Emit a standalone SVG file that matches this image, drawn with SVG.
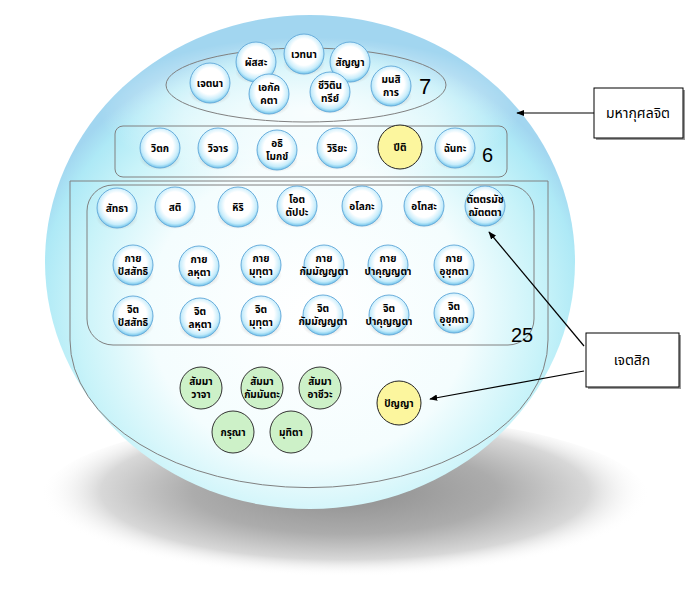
<svg xmlns="http://www.w3.org/2000/svg" width="697" height="599" viewBox="0 0 697 599">
<defs>
<radialGradient id="sph" cx="0.5" cy="0.6" r="0.55">
<stop offset="0" stop-color="#ffffff"/>
<stop offset="0.55" stop-color="#f4fdfe"/>
<stop offset="0.8" stop-color="#c8f3f9"/>
<stop offset="0.93" stop-color="#aee9f6"/>
<stop offset="1" stop-color="#a2d6f0"/>
</radialGradient>
<radialGradient id="hl" cx="0.5" cy="0.5" r="0.5">
<stop offset="0" stop-color="#ffffff" stop-opacity="0.85"/>
<stop offset="0.6" stop-color="#ffffff" stop-opacity="0.5"/>
<stop offset="1" stop-color="#ffffff" stop-opacity="0"/>
</radialGradient>
<radialGradient id="gshd" cx="0.5" cy="0.45" r="0.5">
<stop offset="0" stop-color="#8e8e8e"/>
<stop offset="0.5" stop-color="#acacac"/>
<stop offset="0.8" stop-color="#d8d8d8"/>
<stop offset="1" stop-color="#ffffff" stop-opacity="0"/>
</radialGradient>
<radialGradient id="bub" cx="0.5" cy="0.45" r="0.55">
<stop offset="0" stop-color="#ffffff"/>
<stop offset="0.6" stop-color="#ffffff"/>
<stop offset="0.85" stop-color="#c6ecfb"/>
<stop offset="1" stop-color="#6cc2ea"/>
</radialGradient>
<radialGradient id="bsh" cx="0.5" cy="0.5" r="0.5">
<stop offset="0" stop-color="#555" stop-opacity="0.75"/>
<stop offset="1" stop-color="#888" stop-opacity="0"/>
</radialGradient>
<marker id="ah" viewBox="0 0 10 10" refX="9" refY="5" markerWidth="8" markerHeight="8" orient="auto-start-reverse" markerUnits="userSpaceOnUse">
<path d="M0,1 L10,5 L0,9 Z" fill="#000"/>
</marker>
<style>
.t{font-family:"Noto Sans Thai","Noto Serif Thai","Loma","Garuda","Norasi","Noto Sans","DejaVu Sans",sans-serif;font-size:10px;font-weight:bold;text-anchor:middle;fill:#000}
.lab{font-family:"Noto Sans Thai","Noto Serif Thai","Loma","Garuda","Noto Sans","DejaVu Sans",sans-serif;font-size:14px;text-anchor:middle;fill:#000}
.num{font-family:"Liberation Sans",Arial,sans-serif;font-size:22px;fill:#000}
.bub{fill:url(#bub);stroke:#6aaedc;stroke-width:1}
.sh{fill:url(#bsh)}
.yel{fill:#fcf69e;stroke:#222;stroke-width:1}
.grn{fill:#cdf1c8;stroke:#333;stroke-width:1}
.frame{fill:none;stroke:#808080;stroke-width:1}
.box{fill:#fff;stroke:#000;stroke-width:1}
.con{stroke:#000;stroke-width:1.2;fill:none}
</style>
</defs>
<rect width="697" height="599" fill="#fff"/>
<!-- background sphere -->
<ellipse cx="345" cy="500" rx="305" ry="85" fill="url(#gshd)"/>
<ellipse cx="310" cy="262" rx="265" ry="247" fill="url(#sph)"/>
<ellipse cx="310" cy="112" rx="210" ry="75" fill="url(#hl)"/>
<!-- frames -->
<ellipse class="frame" cx="306" cy="85" rx="140" ry="37"/>
<rect class="frame" x="115" y="126" width="392" height="51" rx="8"/>
<path class="frame" d="M70,181 H548 V340 A238,147 0 0 1 70,340 Z"/>
<rect class="frame" x="87" y="185" width="447" height="160" rx="26"/>
<text class="num" x="419" y="94">7</text>
<text class="num" x="482" y="162" style="font-size:20px">6</text>
<text class="num" x="511" y="342" style="font-size:20px">25</text>

<!-- group of 7 -->
<g id="n1"><ellipse class="sh" cx="210" cy="93" rx="21" ry="12"/><circle class="bub" cx="210" cy="83" r="20"/><text class="t" x="210" y="87">เจตนา</text></g>
<g id="n2"><ellipse class="sh" cx="256" cy="72" rx="21" ry="12"/><circle class="bub" cx="256" cy="62" r="20"/><text class="t" x="256" y="66">ผัสสะ</text></g>
<g id="n3"><ellipse class="sh" cx="304" cy="64" rx="21" ry="12"/><circle class="bub" cx="304" cy="54" r="20"/><text class="t" x="304" y="58">เวทนา</text></g>
<g id="n4"><ellipse class="sh" cx="350" cy="72" rx="21" ry="12"/><circle class="bub" cx="350" cy="62" r="20"/><text class="t" x="350" y="66">สัญญา</text></g>
<g id="n5"><ellipse class="sh" cx="269" cy="104" rx="21" ry="12"/><circle class="bub" cx="269" cy="94" r="20"/><text class="t" x="269" y="91"><tspan x="269">เอกัค</tspan><tspan x="269" dy="13">คตา</tspan></text></g>
<g id="n6"><ellipse class="sh" cx="330" cy="102" rx="21" ry="12"/><circle class="bub" cx="330" cy="92" r="20"/><text class="t" x="330" y="89"><tspan x="330">ชีวิติน</tspan><tspan x="330" dy="13">ทรีย์</tspan></text></g>
<g id="n7"><ellipse class="sh" cx="391" cy="96" rx="21" ry="12"/><circle class="bub" cx="391" cy="86" r="20"/><text class="t" x="391" y="83"><tspan x="391">มนสิ</tspan><tspan x="391" dy="13">การ</tspan></text></g>

<!-- group of 6 -->
<g id="n8"><ellipse class="sh" cx="160" cy="158" rx="21" ry="12"/><circle class="bub" cx="160" cy="148" r="20"/><text class="t" x="160" y="152">วิตก</text></g>
<g id="n9"><ellipse class="sh" cx="218" cy="158" rx="21" ry="12"/><circle class="bub" cx="218" cy="148" r="20"/><text class="t" x="218" y="152">วิจาร</text></g>
<g id="n10"><ellipse class="sh" cx="277" cy="160" rx="21" ry="12"/><circle class="bub" cx="277" cy="150" r="20"/><text class="t" x="277" y="147"><tspan x="277">อธิ</tspan><tspan x="277" dy="13">โมกข์</tspan></text></g>
<g id="n11"><ellipse class="sh" cx="337" cy="158" rx="21" ry="12"/><circle class="bub" cx="337" cy="148" r="20"/><text class="t" x="337" y="152">วิริยะ</text></g>
<g id="n12"><circle class="yel" cx="400" cy="147" r="22"/><text class="t" x="400" y="151">ปีติ</text></g>
<g id="n13"><ellipse class="sh" cx="455" cy="158" rx="21" ry="12"/><circle class="bub" cx="455" cy="148" r="20"/><text class="t" x="455" y="152">ฉันทะ</text></g>

<!-- group of 25 -->
<g id="n14"><ellipse class="sh" cx="117" cy="218" rx="21" ry="12"/><circle class="bub" cx="117" cy="208" r="20"/><text class="t" x="117" y="212">สัทธา</text></g>
<g id="n15"><ellipse class="sh" cx="175" cy="217" rx="21" ry="12"/><circle class="bub" cx="175" cy="207" r="20"/><text class="t" x="175" y="211">สติ</text></g>
<g id="n16"><ellipse class="sh" cx="238" cy="217" rx="21" ry="12"/><circle class="bub" cx="238" cy="207" r="20"/><text class="t" x="238" y="211">หิริ</text></g>
<g id="n17"><ellipse class="sh" cx="297" cy="216" rx="21" ry="12"/><circle class="bub" cx="297" cy="206" r="20"/><text class="t" x="297" y="203"><tspan x="297">โอต</tspan><tspan x="297" dy="13">ตัปปะ</tspan></text></g>
<g id="n18"><ellipse class="sh" cx="362" cy="216" rx="21" ry="12"/><circle class="bub" cx="362" cy="206" r="20"/><text class="t" x="362" y="210">อโลภะ</text></g>
<g id="n19"><ellipse class="sh" cx="424" cy="216" rx="21" ry="12"/><circle class="bub" cx="424" cy="206" r="20"/><text class="t" x="424" y="210">อโทสะ</text></g>
<g id="n20"><ellipse class="sh" cx="485" cy="216" rx="21" ry="12"/><circle class="bub" cx="485" cy="206" r="20"/><text class="t" x="485" y="203"><tspan x="485">ตัตตรมัช</tspan><tspan x="485" dy="13">ฌัตตตา</tspan></text></g>

<g id="n21"><ellipse class="sh" cx="133" cy="275" rx="21" ry="12"/><circle class="bub" cx="133" cy="265" r="20"/><text class="t" x="133" y="262"><tspan x="133">กาย</tspan><tspan x="133" dy="13">ปัสสัทธิ</tspan></text></g>
<g id="n22"><ellipse class="sh" cx="199" cy="276" rx="21" ry="12"/><circle class="bub" cx="199" cy="266" r="20"/><text class="t" x="199" y="263"><tspan x="199">กาย</tspan><tspan x="199" dy="13">ลหุตา</tspan></text></g>
<g id="n23"><ellipse class="sh" cx="261" cy="275" rx="21" ry="12"/><circle class="bub" cx="261" cy="265" r="20"/><text class="t" x="261" y="262"><tspan x="261">กาย</tspan><tspan x="261" dy="13">มุทุตา</tspan></text></g>
<g id="n24"><ellipse class="sh" cx="324" cy="275" rx="21" ry="12"/><circle class="bub" cx="324" cy="265" r="20"/><text class="t" x="324" y="262"><tspan x="324">กาย</tspan><tspan x="324" dy="13">กัมมัญญตา</tspan></text></g>
<g id="n25"><ellipse class="sh" cx="388" cy="275" rx="21" ry="12"/><circle class="bub" cx="388" cy="265" r="20"/><text class="t" x="388" y="262"><tspan x="388">กาย</tspan><tspan x="388" dy="13">ปาคุญญตา</tspan></text></g>
<g id="n26"><ellipse class="sh" cx="454" cy="275" rx="21" ry="12"/><circle class="bub" cx="454" cy="265" r="20"/><text class="t" x="454" y="262"><tspan x="454">กาย</tspan><tspan x="454" dy="13">อุชุกตา</tspan></text></g>

<g id="n27"><ellipse class="sh" cx="133" cy="326" rx="21" ry="12"/><circle class="bub" cx="133" cy="316" r="20"/><text class="t" x="133" y="313"><tspan x="133">จิต</tspan><tspan x="133" dy="13">ปัสสัทธิ</tspan></text></g>
<g id="n28"><ellipse class="sh" cx="200" cy="328" rx="21" ry="12"/><circle class="bub" cx="200" cy="318" r="20"/><text class="t" x="200" y="315"><tspan x="200">จิต</tspan><tspan x="200" dy="13">ลหุตา</tspan></text></g>
<g id="n29"><ellipse class="sh" cx="261" cy="326" rx="21" ry="12"/><circle class="bub" cx="261" cy="316" r="20"/><text class="t" x="261" y="313"><tspan x="261">จิต</tspan><tspan x="261" dy="13">มุทุตา</tspan></text></g>
<g id="n30"><ellipse class="sh" cx="323" cy="325" rx="21" ry="12"/><circle class="bub" cx="323" cy="315" r="20"/><text class="t" x="323" y="312"><tspan x="323">จิต</tspan><tspan x="323" dy="13">กัมมัญญตา</tspan></text></g>
<g id="n31"><ellipse class="sh" cx="389" cy="325" rx="21" ry="12"/><circle class="bub" cx="389" cy="315" r="20"/><text class="t" x="389" y="312"><tspan x="389">จิต</tspan><tspan x="389" dy="13">ปาคุญญตา</tspan></text></g>
<g id="n32"><ellipse class="sh" cx="454" cy="323" rx="21" ry="12"/><circle class="bub" cx="454" cy="313" r="20"/><text class="t" x="454" y="310"><tspan x="454">จิต</tspan><tspan x="454" dy="13">อุชุกตา</tspan></text></g>

<!-- green and yellow -->
<g id="n33"><circle class="grn" cx="201" cy="388" r="21"/><text class="t" x="201" y="385"><tspan x="201">สัมมา</tspan><tspan x="201" dy="13">วาจา</tspan></text></g>
<g id="n34"><circle class="grn" cx="262" cy="388" r="21"/><text class="t" x="262" y="385"><tspan x="262">สัมมา</tspan><tspan x="262" dy="13">กัมมันตะ</tspan></text></g>
<g id="n35"><circle class="grn" cx="320" cy="388" r="21"/><text class="t" x="320" y="385"><tspan x="320">สัมมา</tspan><tspan x="320" dy="13">อาชีวะ</tspan></text></g>
<g id="n36"><circle class="grn" cx="233" cy="432" r="21"/><text class="t" x="233" y="436">กรุณา</text></g>
<g id="n37"><circle class="grn" cx="291" cy="432" r="21"/><text class="t" x="291" y="436">มุทิตา</text></g>
<g id="n38"><circle class="yel" cx="399" cy="403" r="22"/><text class="t" x="399" y="407">ปัญญา</text></g>

<!-- label boxes -->
<g id="box1"><rect x="596" y="90" width="89" height="50" fill="#999"/><rect class="box" x="594" y="88" width="89" height="50"/><text class="lab" x="638" y="118">มหากุศลจิต</text></g>
<g id="box2"><rect x="588" y="335" width="93" height="54" fill="#999"/><rect class="box" x="586" y="333" width="93" height="54"/><text class="lab" x="632" y="365">เจตสิก</text></g>

<!-- connectors -->
<g id="connectors">
<line class="con" x1="594" y1="113" x2="517" y2="113" marker-end="url(#ah)"/>
<line class="con" x1="584" y1="346" x2="489" y2="232" marker-end="url(#ah)"/>
<line class="con" x1="584" y1="371" x2="430" y2="399" marker-end="url(#ah)"/>
</g>
</svg>
